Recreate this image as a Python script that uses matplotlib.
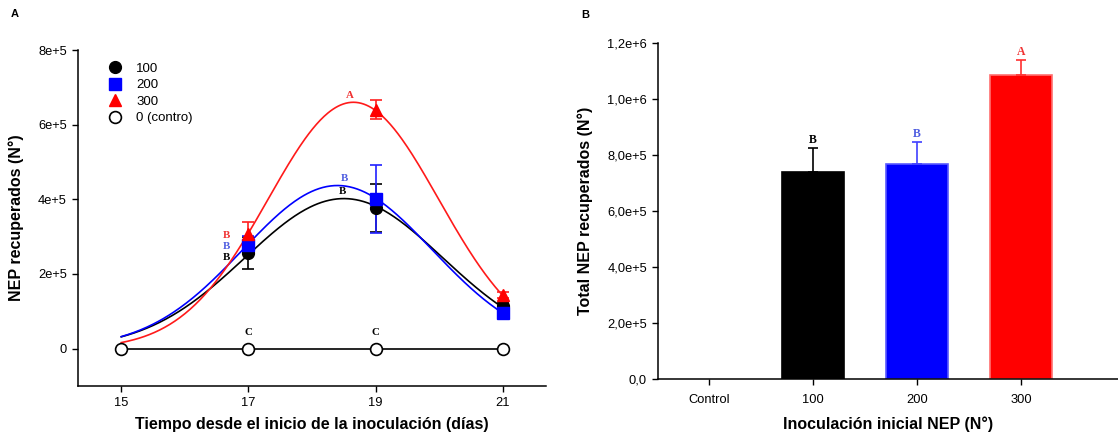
import numpy as np
import matplotlib
matplotlib.use('Agg')
import matplotlib.pyplot as plt

plt.rcParams['font.family'] = ['Liberation Sans', 'DejaVu Sans']

# ---- panel A data: days after inoculation ----
days = [15, 17, 19, 21]
labels_a = ['100', '200', '300']
nan = float('nan')
mean_100 = [nan, 2.57e5, 3.77e5, 1.15e5]
err_100 = [nan, 0.43e5, 0.64e5, 0.08e5]
mean_200 = [nan, 2.78e5, 4.01e5, 0.96e5]
err_200 = [nan, 0.25e5, 0.92e5, 0.06e5]
mean_300 = [nan, 3.07e5, 6.40e5, 1.44e5]
err_300 = [nan, 0.32e5, 0.25e5, 0.08e5]
control = [0, 0, 0, 0]

# gaussian fit parameters (peak, centre, width)
fit_100 = [4.02e5, 18.50, 1.553]
fit_200 = [4.37e5, 18.40, 1.489]
fit_300 = [6.60e5, 18.65, 1.341]

# letters above the points (x, y, text)
letters_100 = [(16.65, 2.44e5, 'B'), (18.48, 4.20e5, 'B')]
letters_200 = [(16.65, 2.73e5, 'B'), (18.51, 4.57e5, 'B')]
letters_300 = [(16.65, 3.02e5, 'B'), (18.59, 6.79e5, 'A')]
letters_ctrl = [(17, 0.43e5, 'C'), (19, 0.43e5, 'C')]

# ---- panel B data: total recovered ----
groups = ['Control', '100', '200', '300']
totals = [0, 7.38e5, 7.68e5, 1.086e6]
totals_err = [0, 0.87e5, 0.78e5, 0.52e5]
totals_letters = ['', 'B', 'B', 'A']

fig = plt.figure(figsize=(11.18, 4.36), dpi=100)
axA = fig.add_axes([0.0698, 0.1147, 0.4186, 0.7706])
axB = fig.add_axes([0.5886, 0.1307, 0.4114, 0.7706])

serif = ['Liberation Serif', 'DejaVu Serif']

# fitted curves
xs = np.linspace(15, 21, 300)
for fit, col in [(fit_100, 'black'), (fit_200, '#0000ff'), (fit_300, '#ff1a1a')]:
    amp, mu, sd = fit
    axA.plot(xs, amp * np.exp(-0.5 * ((xs - mu) / sd) ** 2), color=col, lw=1.2, zorder=2)

axA.plot(days, control, color='black', lw=1.2, zorder=2)

series = [
    (mean_100, err_100, 'o', 'black', 'black', 8.5),
    (mean_200, err_200, 's', '#0000ff', '#2020ff', 8),
    (mean_300, err_300, '^', '#ff0000', '#ff2020', 8.5),
]
handles = []
for (m, e, mk, col, ecol, ms), lab in zip(series, labels_a):
    axA.errorbar(days, m, yerr=e, fmt='none', ecolor=ecol, elinewidth=1.2,
                 capsize=4.5, capthick=1.2, zorder=3)
    h, = axA.plot(days, m, linestyle='none', marker=mk, color=col, ms=ms,
                  zorder=4, label=lab)
    handles.append(h)

hc, = axA.plot(days, control, linestyle='none', marker='o', ms=8.5, mfc='white',
               mec='black', mew=1.2, zorder=5, label='0 (contro)')
handles.append(hc)

for lst, col in [(letters_100, 'black'), (letters_200, '#4d5ce0'),
                 (letters_300, '#f03030'), (letters_ctrl, 'black')]:
    for x, y, t in lst:
        axA.text(x, y, t, color=col, fontsize=7.8, fontweight='bold',
                 family=serif, ha='center', va='center', zorder=6)

axA.legend(handles=handles, loc='upper left', bbox_to_anchor=(0.045, 0.99),
           frameon=False, fontsize=9.5, handletextpad=1.1, labelspacing=0.32,
           handlelength=1.0, borderpad=0.2)

axA.set_xlim(14.32, 21.68)
axA.set_ylim(-1.0e5, 8.0e5)
axA.set_xticks(days)
axA.set_yticks([0, 2e5, 4e5, 6e5, 8e5])
axA.set_yticklabels(['0', '2e+5', '4e+5', '6e+5', '8e+5'])
axA.set_xlabel('Tiempo desde el inicio de la inoculación (días)', fontsize=11.5,
               fontweight='bold', labelpad=6)
axA.set_ylabel('NEP recuperados (N°)', fontsize=11.5, fontweight='bold', labelpad=10)
axA.spines['top'].set_visible(False)
axA.spines['right'].set_visible(False)

# ---- panel B ----
xpos = np.arange(len(groups))
bar_cols = ['white', 'black', '#0000ff', '#ff0000']
edge_cols = ['white', 'black', '#5a5aff', '#ff7070']
err_cols = ['white', 'black', '#4040ff', '#ff3030']
letter_cols = ['black', 'black', '#4d5ce0', '#f03030']
axB.bar(xpos, totals, width=0.6, color=bar_cols, edgecolor=edge_cols, lw=1.2, zorder=2)
for i in range(len(groups)):
    if totals[i] == 0:
        continue
    axB.errorbar(xpos[i], totals[i], yerr=[[0], [totals_err[i]]], fmt='none',
                 ecolor=err_cols[i], elinewidth=1.2, capsize=3.8, capthick=1.2, zorder=3)
    axB.annotate(totals_letters[i], (xpos[i], totals[i] + totals_err[i]),
                 xytext=(0, 1.5), textcoords='offset points', ha='center', va='bottom',
                 color=letter_cols[i], fontsize=8.5, fontweight='bold', family=serif)

axB.set_xlim(-0.49, 3.93)
axB.set_ylim(0, 1.2e6)
axB.set_xticks(xpos)
axB.set_xticklabels(groups)
axB.set_yticks([0, 2e5, 4e5, 6e5, 8e5, 1e6, 1.2e6])
axB.set_yticklabels(['0,0', '2,0e+5', '4,0e+5', '6,0e+5', '8,0e+5', '1,0e+6', '1,2e+6'])
axB.set_xlabel('Inoculación inicial NEP (N°)', fontsize=11.5, fontweight='bold', labelpad=7)
axB.set_ylabel('Total NEP recuperados (N°)', fontsize=11.5, fontweight='bold', labelpad=10)
axB.spines['top'].set_visible(False)
axB.spines['right'].set_visible(False)

for ax in (axA, axB):
    ax.tick_params(direction='out', length=4, width=1, labelsize=9.3, pad=4)
    for s in ('left', 'bottom'):
        ax.spines[s].set_linewidth(1.1)
axB.tick_params(axis='x', pad=7)

fig.text(15 / 1118, 1 - 14 / 436, 'A', fontsize=8, fontweight='bold', ha='center', va='center')
fig.text(585 / 1118, 1 - 15 / 436, 'B', fontsize=8, fontweight='bold', ha='center', va='center')

fig.savefig('out.png', dpi=100)
